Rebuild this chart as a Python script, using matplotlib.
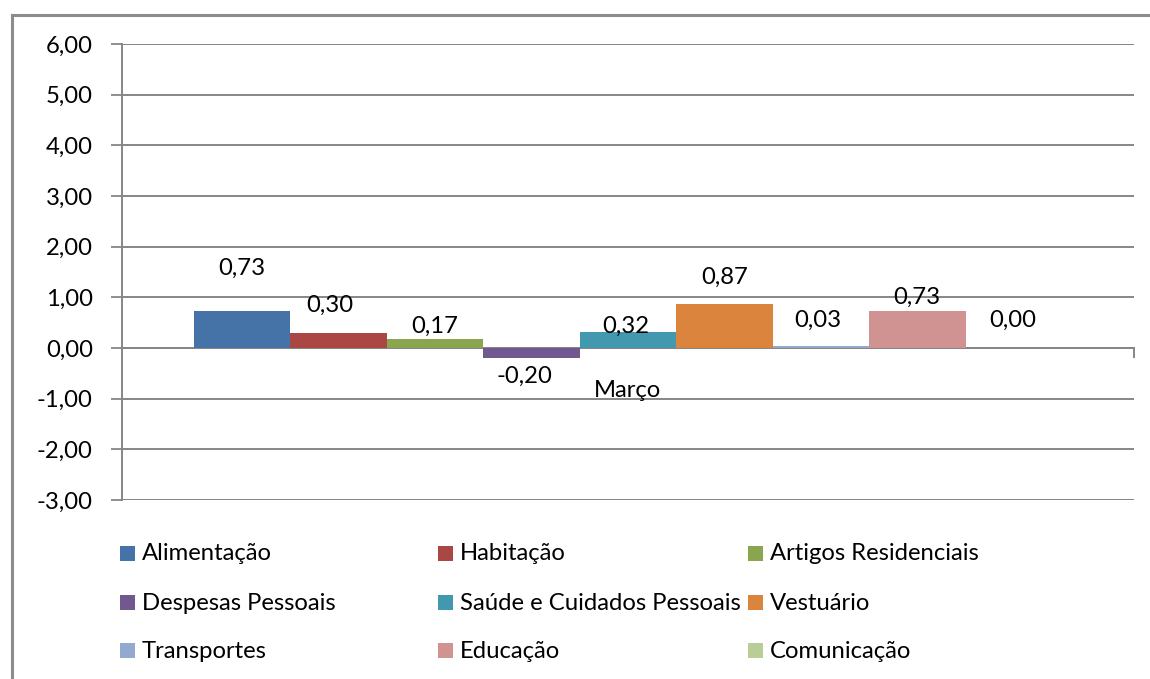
import matplotlib
matplotlib.use("Agg")
import matplotlib.pyplot as plt
from matplotlib.patches import Rectangle
from matplotlib.lines import Line2D

categories = ["Alimentação", "Habitação", "Artigos Residenciais",
              "Despesas Pessoais", "Saúde e Cuidados Pessoais", "Vestuário",
              "Transportes", "Educação", "Comunicação"]
values = [0.73, 0.30, 0.17, -0.20, 0.32, 0.87, 0.03, 0.73, 0.00]
value_labels = ["0,73", "0,30", "0,17", "-0,20", "0,32", "0,87", "0,03", "0,73", "0,00"]
group_label = "Março"
y_ticks = [6, 5, 4, 3, 2, 1, 0, -1, -2, -3]
y_tick_labels = ["6,00", "5,00", "4,00", "3,00", "2,00", "1,00", "0,00", "-1,00", "-2,00", "-3,00"]

colors = ["#4572A7", "#AA4643", "#89A54E", "#71588F", "#4198AF",
          "#DB843D", "#93A9CF", "#D19392", "#B9CD96"]
# label placement offsets (data units, from bar top) and small x shifts
label_dy = [0.85, 0.55, 0.26, -0.35, 0.11, 0.53, 0.52, 0.26, 0.55]
label_dx = [0.0, -0.008, 0.0, -0.007, -0.002, 0.0, -0.003, -0.001, -0.001]

plt.rcParams['font.family'] = ['Lato', 'DejaVu Sans']
FS = 17.2
GRID = "#868686"

fig = plt.figure(figsize=(11.5, 6.79), dpi=100)
W, H = 1150, 679
ax = fig.add_axes([122 / W, 1 - 500 / H, (1134 - 122) / W, (500 - 44) / H])

n = len(values)
bw = 0.0954
xs = [(i - (n - 1) / 2) * bw for i in range(n)]
ax.bar(xs, values, width=bw, color=colors, zorder=3, linewidth=0)

ax.set_xlim(-0.5, 0.5)
ax.set_ylim(-3, 6)
ax.set_yticks(y_ticks)
ax.set_yticklabels(y_tick_labels, fontsize=FS)
ax.tick_params(axis='y', length=8, width=1.3, color=GRID, pad=13)
ax.set_xticks([])
for y in y_ticks:
    ax.axhline(y, color=GRID, lw=1.4, zorder=1)
for s in ["top", "right", "bottom"]:
    ax.spines[s].set_visible(False)
ax.spines["left"].set_color(GRID)
ax.spines["left"].set_linewidth(1.4)

# x axis at zero with end tick
ax.plot([0.5, 0.5], [0, -0.17], color=GRID, lw=1.4, clip_on=False, zorder=2)
ax.plot([-0.5, 0.5], [0, 0], color=GRID, lw=1.4, zorder=2)

for x, v, lab, dy, dx in zip(xs, values, value_labels, label_dy, label_dx):
    ax.text(x + dx, v + dy, lab, ha="center", va="center", fontsize=FS, zorder=4)

ax.text(0.0, -0.83, group_label, ha="center", va="center", fontsize=FS, zorder=4)

# legend (Excel row-major, equal column widths)
col_x = [120, 438, 748]
row_y = [553, 602, 650]
sq = 15
for i, (name, c) in enumerate(zip(categories, colors)):
    cx = col_x[i % 3]
    cy = row_y[i // 3]
    fig.patches.append(Rectangle((cx / W, 1 - (cy + sq / 2) / H), sq / W, sq / H,
                                 transform=fig.transFigure, facecolor=c, edgecolor="none"))
    fig.text((cx + sq + 7) / W, 1 - (cy + 1) / H, name, fontsize=FS, va="center", ha="left")

# outer chart border (top and left)
fig.lines.append(Line2D([12 / W, 1.0], [1 - 15 / H, 1 - 15 / H], transform=fig.transFigure,
                        color="#8c8c8c", lw=2.2))
fig.lines.append(Line2D([12 / W, 12 / W], [1 - 15 / H, 0], transform=fig.transFigure,
                        color="#8c8c8c", lw=2.2))

fig.savefig("out.png", dpi=100)
